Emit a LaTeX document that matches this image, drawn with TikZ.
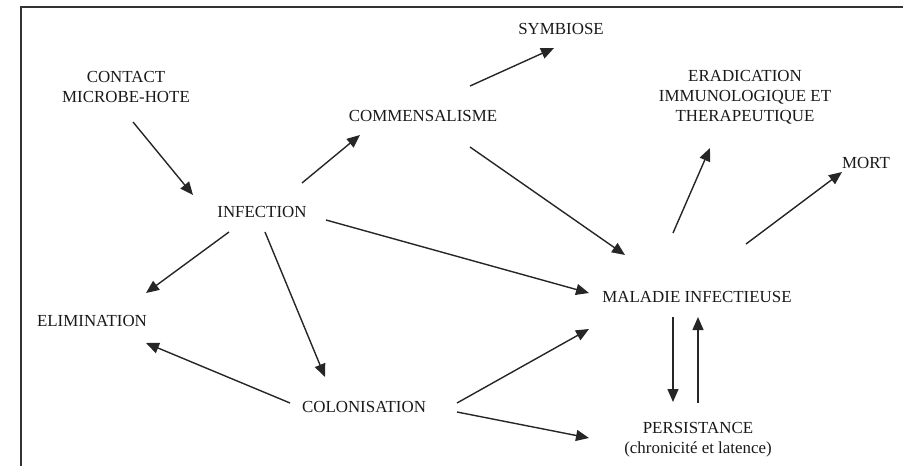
\documentclass[tikz,border=0pt]{standalone}
\usepackage{fontspec}
\setmainfont{Liberation Serif}
\usetikzlibrary{arrows.meta}
\begin{document}
\begin{tikzpicture}[x=1pt,y=-1pt,
  lbl/.style={inner sep=0pt,align=center,text=black!90,font=\fontsize{16.9}{20}\selectfont},
  arr/.style={draw=black!85,line width=1.4pt,-{Triangle[length=13pt,width=11pt]}},
  frame/.style={draw=black!80,line width=1.5pt}]
\useasboundingbox (0,0) rectangle (903,466);
\draw[frame] (21,466) -- (21,7) -- (903,7);
\node[lbl] (con) at (126,87) {CONTACT\\MICROBE-HOTE};
\node[lbl] (inf) at (262,212) {INFECTION};
\node[lbl] (com) at (423,116) {COMMENSALISME};
\node[lbl] (sym) at (561,29) {SYMBIOSE};
\node[lbl] (era) at (745,97) {ERADICATION\\IMMUNOLOGIQUE ET\\THERAPEUTIQUE};
\node[lbl] (mort) at (866,163) {MORT};
\node[lbl] (mal) at (697,297) {MALADIE INFECTIEUSE};
\node[lbl] (eli) at (92,321) {ELIMINATION};
\node[lbl] (col) at (364,407) {COLONISATION};
\node[lbl] (per) at (698,440) {PERSISTANCE\\(chronicité et latence)};
\draw[arr] ([shift={(7,35)}]con.center) -- ([shift={(-69,-17)}]inf.center);
\draw[arr] ([shift={(40,-29)}]inf.center) -- ([shift={(-63,19)}]com.center);
\draw[arr] ([shift={(47,-30)}]com.center) -- ([shift={(-7,19)}]sym.center);
\draw[arr] ([shift={(47,31)}]com.center) -- ([shift={(-72,-42)}]mal.center);
\draw[arr] ([shift={(64,8)}]inf.center) -- ([shift={(-108,-4)}]mal.center);
\draw[arr] ([shift={(-33,20)}]inf.center) -- ([shift={(54,-28)}]eli.center);
\draw[arr] ([shift={(3,20)}]inf.center) -- ([shift={(-39,-30)}]col.center);
\draw[arr] ([shift={(-74,-4)}]col.center) -- ([shift={(54,22)}]eli.center);
\draw[arr] ([shift={(93,-4)}]col.center) -- ([shift={(-108,32)}]mal.center);
\draw[arr] ([shift={(93,5)}]col.center) -- ([shift={(-109,-2)}]per.center);
\draw[arr] ([shift={(-24,20)}]mal.center) -- ([shift={(-25,-38)}]per.center);
\draw[arr] ([shift={(0,-37)}]per.center) -- ([shift={(1,20)}]mal.center);
\draw[arr] ([shift={(-24,-64)}]mal.center) -- ([shift={(-35,51)}]era.center);
\draw[arr] ([shift={(49,-53)}]mal.center) -- ([shift={(-24,9)}]mort.center);
\end{tikzpicture}
\end{document}
